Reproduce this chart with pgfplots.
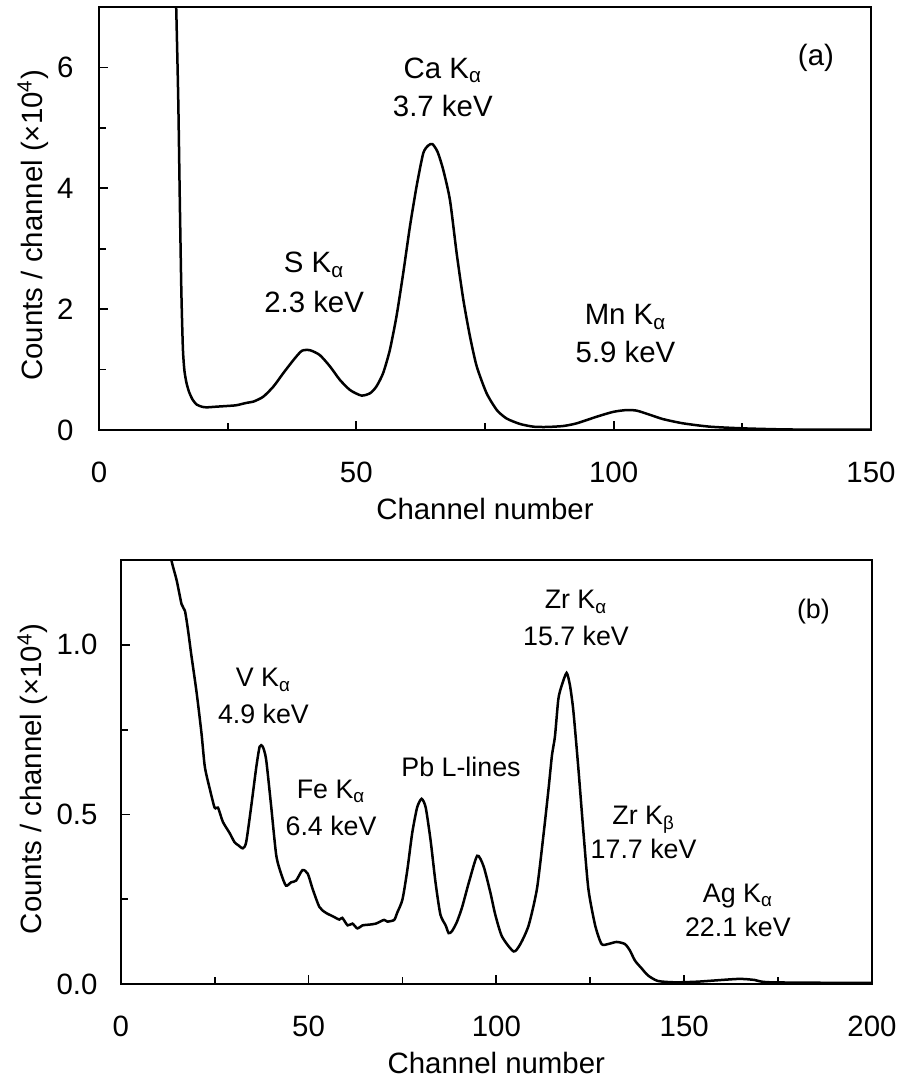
\documentclass[border=0pt]{standalone}
\usepackage{pgfplots}
\pgfplotsset{compat=1.18}
\usepackage{pgfplotstable}
\usepackage{fontspec}
\setmainfont{Liberation Sans}

\pgfplotstableread{
x y
14.8 7.6
15.0 7.0
15.4 5.46
15.7 3.8
16.0 2.3
16.3 1.35
16.6 0.98
17.0 0.78
17.5 0.63
18.2 0.50
19.0 0.42
20.0 0.385
20.9 0.375
22.8 0.386
24.8 0.397
26.7 0.41
28.7 0.45
30.0 0.47
31.9 0.55
33.9 0.72
35.8 0.94
37.8 1.16
39.4 1.31
41.0 1.32
42.9 1.24
44.9 1.05
46.8 0.83
48.8 0.66
51.0 0.57
52.7 0.61
53.9 0.72
55.2 0.94
56.5 1.32
57.8 1.88
59.1 2.59
60.4 3.36
61.7 4.03
63.0 4.58
64.0 4.71
64.8 4.73
65.8 4.60
66.9 4.30
68.2 3.80
69.5 2.92
70.8 2.15
72.1 1.54
73.4 1.05
75.3 0.61
77.3 0.33
79.2 0.19
81.8 0.10
84.4 0.055
87.0 0.05
90.2 0.066
92.8 0.11
96.7 0.22
99.9 0.30
102.5 0.33
104.5 0.32
107.1 0.25
109.6 0.18
113.5 0.11
118.7 0.055
125.2 0.027
133 0.01
140 0.006
150 0.005
}\dataA

\pgfplotstableread{
x y
12.8 1.32
13.5 1.25
14.9 1.19
16.2 1.12
17.1 1.10
17.9 1.045
18.8 0.97
20.2 0.86
21.5 0.74
22.4 0.64
23.7 0.576
25.0 0.52
25.9 0.52
27.2 0.478
29.0 0.445
30.3 0.418
31.2 0.41
32.5 0.40
33.4 0.418
34.7 0.52
36.1 0.64
37.0 0.70
37.8 0.70
38.7 0.663
40.0 0.53
41.4 0.38
42.7 0.325
44.0 0.29
45.4 0.30
46.7 0.305
48.4 0.336
49.8 0.325
51.1 0.28
52.9 0.227
54.6 0.21
56.4 0.20
58.2 0.19
59.0 0.195
60.4 0.173
61.7 0.178
63.0 0.164
64.4 0.173
66.1 0.175
67.9 0.178
70.1 0.189
71.0 0.184
72.8 0.189
73.6 0.21
75.0 0.249
76.3 0.336
77.6 0.445
78.9 0.52
80.1 0.546
81.2 0.52
82.5 0.423
83.8 0.30
85.1 0.205
86.5 0.173
87.3 0.15
88.2 0.156
89.5 0.183
90.9 0.227
92.7 0.30
94.9 0.378
96.6 0.347
98.4 0.27
99.7 0.205
101.5 0.14
104.6 0.096
106.4 0.118
108.6 0.173
110.8 0.28
112.6 0.445
113.9 0.576
114.8 0.674
115.6 0.73
116.5 0.84
117.4 0.88
118.7 0.917
119.6 0.88
120.5 0.805
121.8 0.64
123.2 0.445
124.5 0.28
126.3 0.173
128.0 0.118
129.8 0.118
132.0 0.124
134.2 0.118
135.5 0.10
136.9 0.069
138.6 0.047
140.4 0.025
143.0 0.009
147.5 0.005
153.7 0.007
164.3 0.015
168.7 0.012
173.1 0.005
200 0.003
}\dataB

\pgfplotsset{
  spec/.style={
    scale only axis,
    anchor=south west,
    tick pos=left,
    tick align=inside,
    major tick length=4.5pt,
    minor tick length=3.5pt,
    axis line style={line width=0.9pt},
    every tick/.style={line width=0.9pt, black},
    minor x tick num=1,
    minor y tick num=1,
    /pgf/number format/assume math mode=true,
    xlabel={Channel number},
    ylabel={Counts / channel (×10\textsuperscript{4})},
    xlabel style={at={(axis description cs:0.5,0)}, anchor=base, yshift=-44.5pt},
    xticklabel style={anchor=base, yshift=-26.4pt},
  },
}

\begin{document}
\fontsize{14.7}{17.6}\selectfont
\begin{tikzpicture}
\useasboundingbox (0,0) rectangle (450pt,-540pt);

\begin{axis}[spec,
  at={(49.5pt,-215pt)}, width=386pt, height=211.5pt,
  xmin=0, xmax=150, ymin=0, ymax=7,
  xtick={0,50,100,150}, ytick={0,2,4,6},
  ylabel style={at={(axis description cs:-0.0738,0.484)}, anchor=base},
  yticklabel style={anchor=east, inner sep=0pt, xshift=-12.5pt},
]
\addplot[black, line width=1.25pt, smooth, tension=0.4] table[x=x,y=y] {\dataA};
\node[anchor=base] at (axis cs:66.8,5.825) {Ca K\textsubscript{α}};
\node[anchor=base] at (axis cs:66.8,5.18) {3.7 keV};
\node[anchor=base] at (axis cs:41.8,2.60) {S K\textsubscript{α}};
\node[anchor=base] at (axis cs:41.8,1.95) {2.3 keV};
\node[anchor=base] at (axis cs:102.3,1.74) {Mn K\textsubscript{α}};
\node[anchor=base] at (axis cs:102.3,1.11) {5.9 keV};
\node[anchor=base] at (axis cs:139.3,6.04) {(a)};
\end{axis}

\begin{axis}[spec,
  at={(60.35pt,-492pt)}, width=375.65pt, height=212pt,
  xmin=0, xmax=200, ymin=0, ymax=1.25,
  xtick={0,50,100,150,200}, ytick={0,0.5,1}, yticklabels={0.0,0.5,1.0},
  ylabel style={at={(axis description cs:-0.1048,0.484)}, anchor=base},
  yticklabel style={anchor=east, inner sep=0pt, xshift=-11.4pt},
]
\addplot[black, line width=1.25pt, smooth, tension=0.4] table[x=x,y=y] {\dataB};
\begin{scope}[every node/.style={font=\fontsize{13.4}{16}\selectfont}]
\node[anchor=base] at (axis cs:38.0,0.876) {V K\textsubscript{α}};
\node[anchor=base] at (axis cs:38.0,0.767) {4.9 keV};
\node[anchor=base] at (axis cs:56.0,0.548) {Fe K\textsubscript{α}};
\node[anchor=base] at (axis cs:56.0,0.439) {6.4 keV};
\node[anchor=base] at (axis cs:90.6,0.613) {Pb L-lines};
\node[anchor=base] at (axis cs:121.2,1.106) {Zr K\textsubscript{α}};
\node[anchor=base] at (axis cs:121.2,0.999) {15.7 keV};
\node[anchor=base] at (axis cs:139.2,0.469) {Zr K\textsubscript{β}};
\node[anchor=base] at (axis cs:139.2,0.369) {17.7 keV};
\node[anchor=base] at (axis cs:164.3,0.240) {Ag K\textsubscript{α}};
\node[anchor=base] at (axis cs:164.3,0.140) {22.1 keV};
\node[anchor=base] at (axis cs:184.4,1.079) {(b)};
\end{scope}
\end{axis}
\end{tikzpicture}
\end{document}
